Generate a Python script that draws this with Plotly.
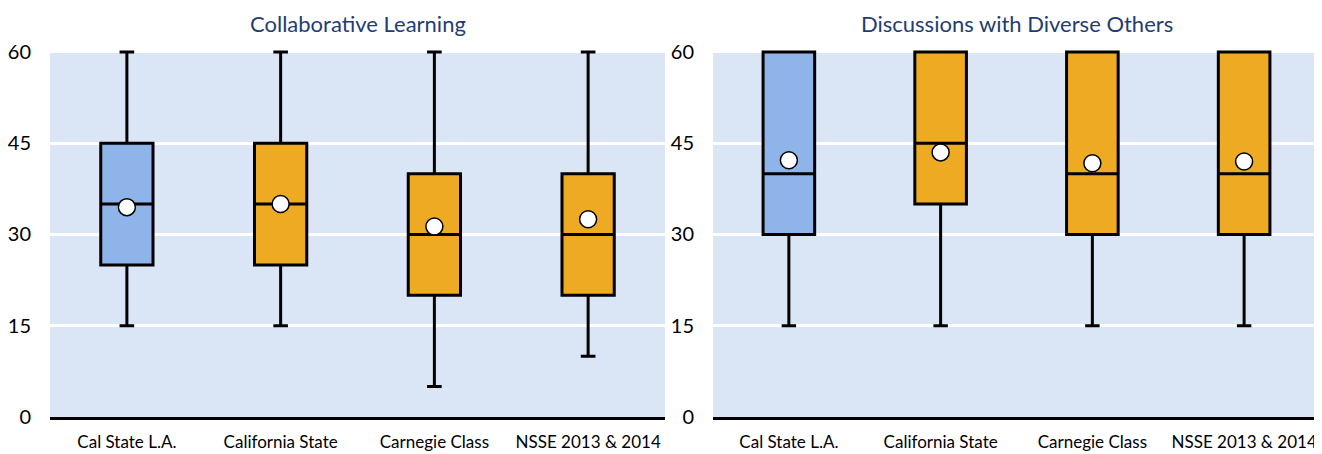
import plotly.graph_objects as go

categories = ["Cal State L.A.", "California State", "Carnegie Class", "NSSE 2013 & 2014"]

# Collaborative Learning
cl_low = [15, 15, 5, 10]
cl_q1 = [25, 25, 20, 20]
cl_med = [35, 35, 30, 30]
cl_q3 = [45, 45, 40, 40]
cl_high = [60, 60, 60, 60]
cl_mean = [34.5, 35.0, 31.3, 32.5]

# Discussions with Diverse Others
dd_low = [15, 15, 15, 15]
dd_q1 = [30, 35, 30, 30]
dd_med = [40, 45, 40, 40]
dd_q3 = [60, 60, 60, 60]
dd_high = [60, 60, 60, 60]
dd_mean = [42.2, 43.5, 41.7, 42.0]

titles = ["Collaborative Learning", "Discussions with Diverse Others"]
y_ticks = [0, 15, 30, 45, 60]

BLUE = "#8eb4ea"
ORANGE = "#eeaa22"
BG = "#dae5f6"
TITLE_C = "#1f3d73"
FONT = "Lato"

fig = go.Figure()

panels = [
    (cl_low, cl_q1, cl_med, cl_q3, cl_high, cl_mean, "x", "y"),
    (dd_low, dd_q1, dd_med, dd_q3, dd_high, dd_mean, "x2", "y2"),
]

for (low, q1, med, q3, high, mean, xa, ya) in panels:
    for i, c in enumerate(categories):
        fig.add_trace(go.Box(
            x=[c], q1=[q1[i]], median=[med[i]], q3=[q3[i]],
            lowerfence=[low[i]], upperfence=[high[i]],
            fillcolor=BLUE if i == 0 else ORANGE,
            line=dict(color="black", width=3),
            width=0.34, whiskerwidth=0.28,
            boxpoints=False, hoverinfo="skip",
            xaxis=xa, yaxis=ya, showlegend=False,
        ))
    fig.add_trace(go.Scatter(
        x=categories, y=mean, mode="markers",
        marker=dict(symbol="circle", size=17, color="white",
                    line=dict(color="black", width=1.5)),
        xaxis=xa, yaxis=ya, showlegend=False, hoverinfo="skip",
    ))

# page body has an 8px margin: lay out in reference pixels shifted by 8
OFF = 8
W, H = 1322 - OFF, 454 - OFF
YMAX = 60.5
px_per_unit = (417 - 52) / 60.0
top_px = 417 - YMAX * px_per_unit
ydom = [1 - (417 - OFF) / H, 1 - (top_px - OFF) / H]
x1dom = [(50 - OFF) / W, (665 - OFF) / W]
x2dom = [(713 - OFF) / W, (1320 - OFF) / W]

axis_x = dict(type="category", categoryorder="array", categoryarray=categories,
              range=[-0.5, 3.5], autorange=False, automargin=False,
              showgrid=False, zeroline=False, showline=True, linecolor="black",
              linewidth=3, ticks="", ticklabelstandoff=8,
              tickfont=dict(family=FONT, size=17, color="black"),
              fixedrange=True)
axis_y = dict(range=[0, YMAX], autorange=False, automargin=False, tickvals=y_ticks,
              showgrid=True, gridcolor="white", gridwidth=3, zeroline=False,
              showline=False, ticks="", ticklabelstandoff=18,
              tickfont=dict(family=FONT, size=20, color="black"),
              fixedrange=True)

fig.update_layout(
    template="none",
    width=W, height=H,
    margin=dict(l=0, r=0, t=0, b=0, autoexpand=False),
    paper_bgcolor="white", plot_bgcolor="white",
    boxmode="overlay",
    xaxis=dict(axis_x, domain=x1dom, anchor="y"),
    yaxis=dict(axis_y, domain=ydom, anchor="x"),
    xaxis2=dict(axis_x, domain=x2dom, anchor="y2"),
    yaxis2=dict(axis_y, domain=ydom, anchor="x2"),
    shapes=[
        dict(type="rect", xref="x domain", yref="y", x0=0, x1=1, y0=0, y1=60,
             fillcolor=BG, line=dict(width=0), layer="below"),
        dict(type="rect", xref="x2 domain", yref="y2", x0=0, x1=1, y0=0, y1=60,
             fillcolor=BG, line=dict(width=0), layer="below"),
    ],
    annotations=[
        dict(text=titles[0], xref="paper", yref="paper", x=(x1dom[0] + x1dom[1]) / 2,
             y=1, xanchor="center", yanchor="top", showarrow=False,
             font=dict(family=FONT, size=22, color=TITLE_C)),
        dict(text=titles[1], xref="paper", yref="paper", x=(x2dom[0] + x2dom[1]) / 2,
             y=1, xanchor="center", yanchor="top", showarrow=False,
             font=dict(family=FONT, size=22, color=TITLE_C)),
    ],
)

fig.write_html("out.html")
